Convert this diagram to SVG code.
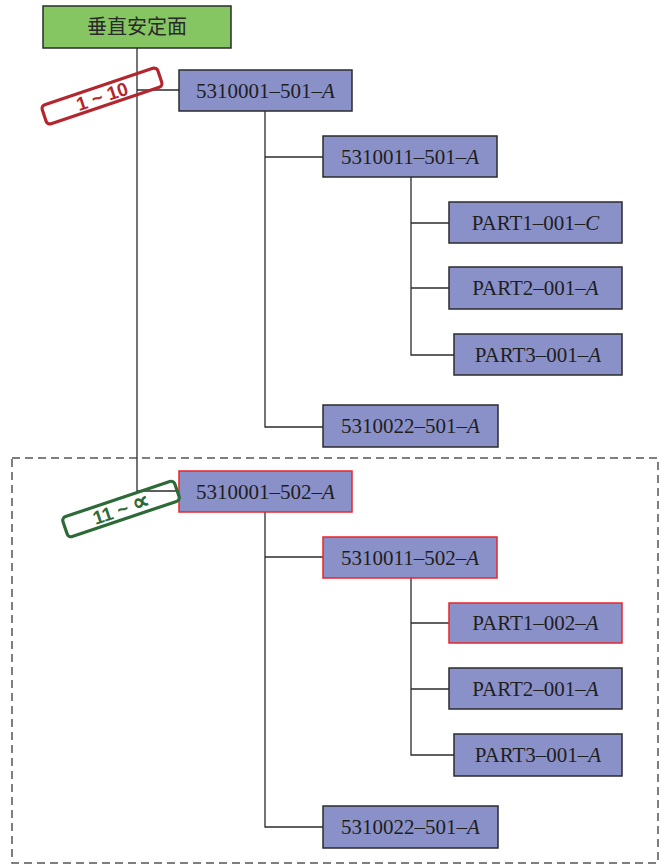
<svg xmlns="http://www.w3.org/2000/svg" width="663" height="866" viewBox="0 0 663 866">
  <style>
    .node { fill: #8a90c8; stroke: #2b2b2b; stroke-width: 1.5; }
    .node.changed { stroke: #e8262b; }
    .root { fill: #86c662; stroke: #2b2b2b; stroke-width: 1.5; }
    .lbl { font-family: "Liberation Serif", "Times New Roman", serif; font-size: 21px; fill: #1e1e1e; text-anchor: middle; }
    .lbl tspan.i { font-style: italic; }
    .cjk { font-family: "Noto Sans CJK SC", "Noto Sans CJK JP", sans-serif; font-size: 20px; fill: #2a2a2a; text-anchor: middle; }
    .wire { fill: none; stroke: #2b2b2b; stroke-width: 1.3; }
    .zone { fill: none; stroke: #555; stroke-width: 1.5; stroke-dasharray: 8 5; }
    .tag { fill: none; stroke-width: 3.2; }
    .tagtxt { font-family: "Liberation Sans", Arial, sans-serif; font-weight: bold; font-size: 19px; text-anchor: middle; }
  </style>
  <rect width="663" height="866" fill="#ffffff"/>

  <!-- effectivity range 11 and up -->
  <rect class="zone" x="12" y="458" width="646" height="405"/>

  <g id="connectors">
    <!-- trunk -->
    <polyline class="wire" points="137,48 137,491 179,491"/>
    <line class="wire" x1="137" y1="90" x2="179" y2="90"/>
    <!-- -501 assembly -->
    <polyline class="wire" points="265,111 265,427 323,427"/>
    <line class="wire" x1="265" y1="157" x2="323" y2="157"/>
    <polyline class="wire" points="411,177 411,355 454,355"/>
    <line class="wire" x1="411" y1="223" x2="449" y2="223"/>
    <line class="wire" x1="411" y1="288" x2="449" y2="288"/>
    <!-- -502 assembly -->
    <polyline class="wire" points="265,512 265,827 323,827"/>
    <line class="wire" x1="265" y1="557" x2="323" y2="557"/>
    <polyline class="wire" points="411,578 411,755 454,755"/>
    <line class="wire" x1="411" y1="623" x2="449" y2="623"/>
    <line class="wire" x1="411" y1="689" x2="449" y2="689"/>
  </g>

  <g id="root">
    <rect class="root" x="43" y="6" width="188" height="42"/>
    <text class="cjk" x="137" y="34">垂直安定面</text>
  </g>

  <g id="n-5310001-501">
    <rect class="node" x="179" y="70" width="173" height="41"/>
    <text class="lbl" x="265.5" y="98">5310001–501–<tspan class="i">A</tspan></text>
  </g>
  <g id="n-5310011-501">
    <rect class="node" x="323" y="136" width="174" height="41"/>
    <text class="lbl" x="410" y="164">5310011–501–<tspan class="i">A</tspan></text>
  </g>
  <g id="n-part1-001">
    <rect class="node" x="449" y="202" width="173" height="41"/>
    <text class="lbl" x="535.5" y="230">PART1–001–<tspan class="i">C</tspan></text>
  </g>
  <g id="n-part2-001-u">
    <rect class="node" x="449" y="267" width="173" height="42"/>
    <text class="lbl" x="535.5" y="295">PART2–001–<tspan class="i">A</tspan></text>
  </g>
  <g id="n-part3-001-u">
    <rect class="node" x="454" y="334" width="168" height="41"/>
    <text class="lbl" x="538" y="362">PART3–001–<tspan class="i">A</tspan></text>
  </g>
  <g id="n-5310022-501-u">
    <rect class="node" x="323" y="405" width="175" height="42"/>
    <text class="lbl" x="410.5" y="433">5310022–501–<tspan class="i">A</tspan></text>
  </g>

  <g id="n-5310001-502">
    <rect class="node changed" x="179" y="471" width="173" height="41"/>
    <text class="lbl" x="265.5" y="499">5310001–502–<tspan class="i">A</tspan></text>
  </g>
  <g id="n-5310011-502">
    <rect class="node changed" x="323" y="537" width="174" height="41"/>
    <text class="lbl" x="410" y="565">5310011–502–<tspan class="i">A</tspan></text>
  </g>
  <g id="n-part1-002">
    <rect class="node changed" x="449" y="603" width="173" height="40"/>
    <text class="lbl" x="535.5" y="630">PART1–002–<tspan class="i">A</tspan></text>
  </g>
  <g id="n-part2-001-l">
    <rect class="node" x="449" y="668" width="173" height="41"/>
    <text class="lbl" x="535.5" y="696">PART2–001–<tspan class="i">A</tspan></text>
  </g>
  <g id="n-part3-001-l">
    <rect class="node" x="454" y="734" width="168" height="42"/>
    <text class="lbl" x="538" y="762">PART3–001–<tspan class="i">A</tspan></text>
  </g>
  <g id="n-5310022-501-l">
    <rect class="node" x="323" y="806" width="175" height="42"/>
    <text class="lbl" x="410.5" y="834">5310022–501–<tspan class="i">A</tspan></text>
  </g>

  <!-- effectivity tags -->
  <g id="tag-1-10" transform="translate(102,96) rotate(-18.6)">
    <rect class="tag" x="-61" y="-10" width="122" height="20" rx="4" stroke="#b3262e"/>
    <text class="tagtxt" x="0" y="7" fill="#b3262e">1 ~ 10</text>
  </g>
  <g id="tag-11-up" transform="translate(121,509) rotate(-18.6)">
    <rect class="tag" x="-59" y="-10.5" width="118" height="21" rx="4" stroke="#2c6a38"/>
    <text class="tagtxt" x="0" y="7" fill="#2c6a38">11 ~ <tspan font-size="24">∝</tspan></text>
  </g>
</svg>
